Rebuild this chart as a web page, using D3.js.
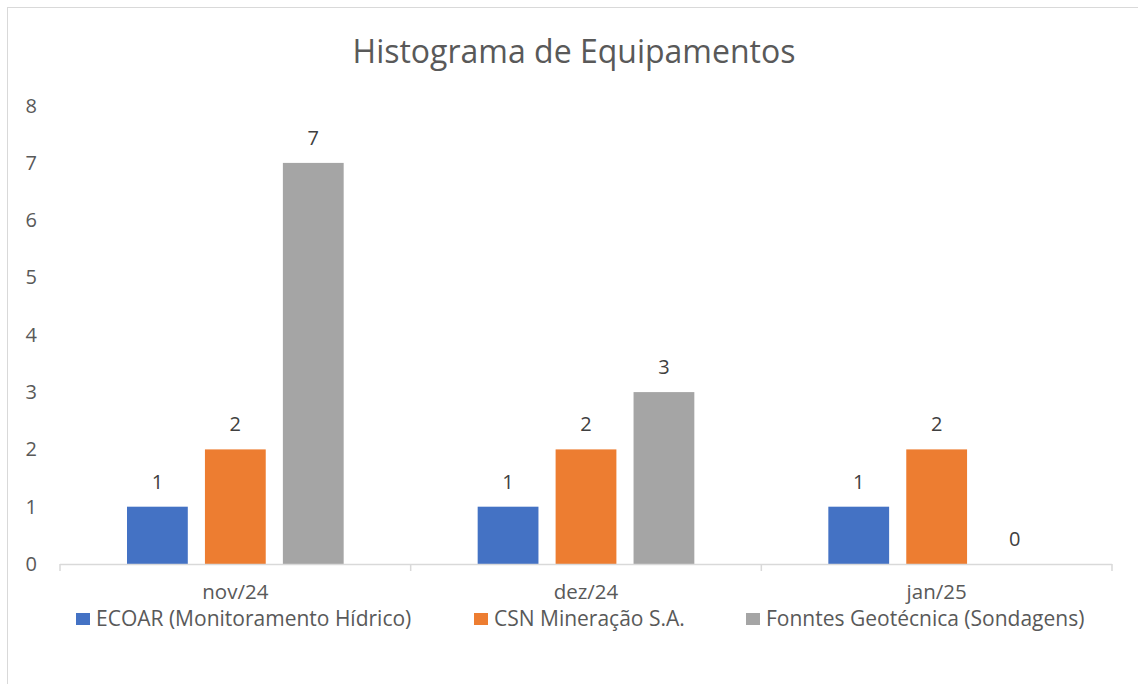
<!DOCTYPE html>
<html>
<head>
<meta charset="utf-8">
<script src="https://cdn.jsdelivr.net/npm/d3@7"></script>
<style>
  body { margin: 0; background: #fff; }
  svg { display: block; font-family: "Open Sans", "Noto Sans", sans-serif; }
</style>
</head>
<body>
<div id="grafico"></div>
<script>
const meses = ["nov/24", "dez/24", "jan/25"];
const empresas = ["ECOAR (Monitoramento Hídrico)", "CSN Mineração S.A.", "Fonntes Geotécnica (Sondagens)"];
const ecoar = [1, 1, 1];
const csn = [2, 2, 2];
const fonntes = [7, 3, 0];
const ticksY = [0, 1, 2, 3, 4, 5, 6, 7, 8];
const cores = ["#4472c4", "#ed7d31", "#a5a5a5"];

const series = [ecoar, csn, fonntes];
const datos = [];
meses.forEach((m, i) => {
    empresas.forEach((e, j) => {
        datos.push({ mes: m, empresa: e, valor: series[j][i] });
    });
});

const W = 1138, H = 684;

const svg = d3.select("#grafico")
    .append("svg")
    .attr("width", W)
    .attr("height", H);

// borda do gráfico
svg.append("rect")
    .attr("x", 7.5).attr("y", 7.5)
    .attr("width", W + 20).attr("height", H + 20)
    .attr("fill", "none")
    .attr("stroke", "#d9d9d9");

svg.append("text")
    .attr("x", 574)
    .attr("y", 63)
    .attr("text-anchor", "middle")
    .attr("font-size", "32px")
    .attr("fill", "#595959")
    .text("Histograma de Equipamentos");

const x0 = d3.scaleBand()
    .domain(meses)
    .range([60, 1112]);

const x1 = d3.scaleBand()
    .domain(empresas)
    .range([67, x0.bandwidth() - 67])
    .paddingInner(0.22);

const y = d3.scaleLinear()
    .domain([0, 8])
    .range([564, 105.6]);

// eixo y (só rótulos)
svg.append("g")
    .attr("transform", "translate(37,0)")
    .call(d3.axisLeft(y).tickValues(ticksY).tickSize(0).tickPadding(0))
    .call(g => g.select(".domain").remove())
    .selectAll("text")
    .attr("font-size", "20px")
    .attr("font-family", "Open Sans, sans-serif")
    .attr("fill", "#595959");

// barras
svg.selectAll(".bar")
    .data(datos)
    .enter()
    .append("rect")
    .attr("class", "bar")
    .attr("x", d => x0(d.mes) + x1(d.empresa))
    .attr("y", d => y(d.valor))
    .attr("width", x1.bandwidth())
    .attr("height", d => y(0) - y(d.valor))
    .attr("fill", d => cores[empresas.indexOf(d.empresa)]);

// rótulos de dados
svg.selectAll(".rotulo")
    .data(datos)
    .enter()
    .append("text")
    .attr("class", "rotulo")
    .attr("x", d => x0(d.mes) + x1(d.empresa) + x1.bandwidth() / 2)
    .attr("y", d => y(d.valor) - 18)
    .attr("text-anchor", "middle")
    .attr("font-size", "20px")
    .attr("fill", "#404040")
    .text(d => d.valor);

// eixo x
const xAxis = svg.append("g")
    .attr("transform", `translate(0,${y(0)})`)
    .call(d3.axisBottom(x0).tickSize(0).tickPadding(0));
xAxis.select(".domain").remove();
xAxis.append("line")
    .attr("x1", 60).attr("x2", 1112)
    .attr("y1", 0.5).attr("y2", 0.5)
    .attr("stroke", "#d9d9d9").attr("stroke-width", 1.5);
xAxis.selectAll(".divisor")
    .data(d3.range(meses.length + 1))
    .enter()
    .append("line")
    .attr("class", "divisor")
    .attr("x1", i => i === meses.length ? x0.range()[1] : x0(meses[i]))
    .attr("x2", i => i === meses.length ? x0.range()[1] : x0(meses[i]))
    .attr("y1", 0).attr("y2", 7)
    .attr("stroke", "#d9d9d9").attr("stroke-width", 1.5);
xAxis.selectAll(".tick text")
    .attr("y", 35)
    .attr("dy", null)
    .attr("font-size", "20.5px")
    .attr("font-family", "Open Sans, sans-serif")
    .attr("fill", "#595959");

// legenda
const legendaX = [76, 474, 746];
const legenda = svg.selectAll(".legenda")
    .data(empresas)
    .enter()
    .append("g")
    .attr("class", "legenda")
    .attr("transform", (d, i) => `translate(${legendaX[i]},613)`);
legenda.append("rect")
    .attr("width", 14).attr("height", 12)
    .attr("fill", (d, i) => cores[i]);
legenda.append("text")
    .attr("x", 20)
    .attr("y", 13)
    .attr("font-size", "21px")
    .attr("fill", "#595959")
    .text(d => d);
</script>
</body>
</html>
